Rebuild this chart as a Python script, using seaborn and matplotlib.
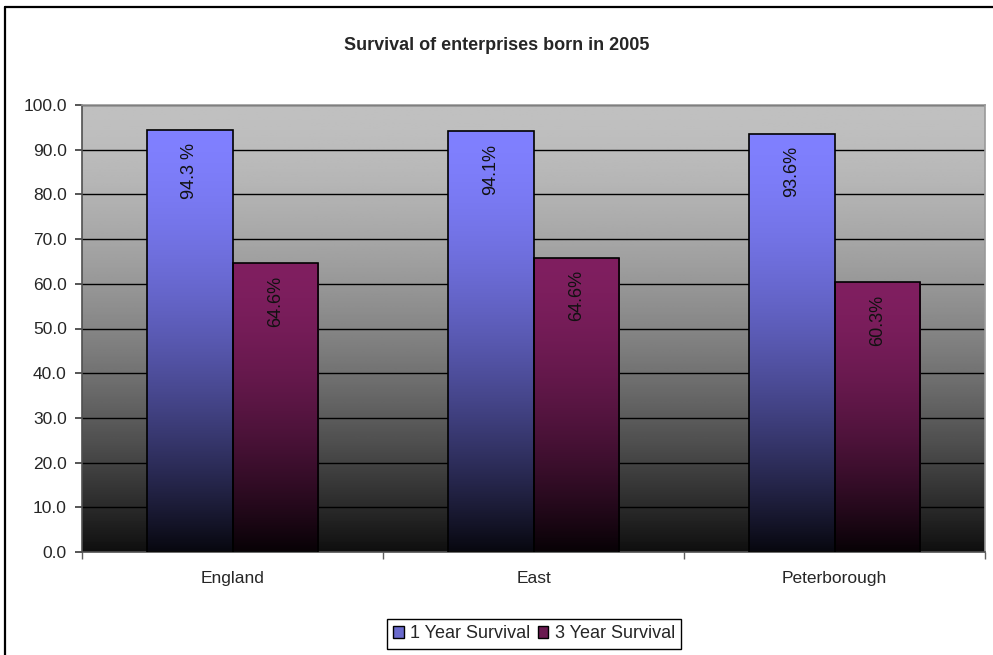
import numpy as np
import pandas as pd
import seaborn as sns
import matplotlib.pyplot as plt
from matplotlib.colors import to_rgb
from matplotlib.lines import Line2D
from matplotlib.patches import Rectangle

sns.set_theme(style="white")
plt.rcParams['font.family'] = ['Liberation Sans', 'DejaVu Sans']

# Chart data
categories = ["England", "East", "Peterborough"]
one_year = [94.3, 94.1, 93.6]
three_year = [64.6, 65.8, 60.3]
one_year_labels = ["94.3 %", "94.1%", "93.6%"]
three_year_labels = ["64.6%", "64.6%", "60.3%"]
series = ["1 Year Survival", "3 Year Survival"]

df = pd.DataFrame({
    "Area": categories * 2,
    "Series": [series[0]] * 3 + [series[1]] * 3,
    "Value": one_year + three_year,
})
labels = one_year_labels + three_year_labels

top_colors = {series[0]: "#8080FF", series[1]: "#801F60"}


def shade(f, lo=0.06):
    # excel-ish gradient: flat near top, dark at bottom
    return lo + (1 - lo) * (1 - (1 - f) ** 1.6)


fig = plt.figure(figsize=(9.93, 6.55), dpi=100)
ax = fig.add_axes([82 / 993, 1 - 552 / 655, (985 - 82) / 993, (552 - 105) / 655])

sns.barplot(data=df, x="Area", y="Value", hue="Series", order=categories,
            hue_order=series, width=0.57, ax=ax, legend=False, zorder=2)

ax.set_ylim(0, 100)
ax.set_xlim(-0.5, 2.5)

# background gradient
f = np.linspace(0, 1, 256)[:, None]
bg = np.clip(shade(f, 0.08) * 0.753, 0, 1)
ax.imshow(np.repeat(bg, 2, axis=1), cmap="gray", vmin=0, vmax=1, origin="lower",
          extent=[0, 1, 0, 1], transform=ax.transAxes, aspect="auto", zorder=0)

ax.set_axisbelow(True)
ax.yaxis.grid(True, color="black", lw=1.0)
ax.set_yticks(np.arange(0, 101, 10))
ax.set_yticklabels([f"{v:.1f}" for v in np.arange(0, 101, 10)])

# gradient bars
bars = [p for p in ax.patches if isinstance(p, Rectangle)][:6]
for i, bar in enumerate(bars):
    name = series[i // 3]
    x0, w, h = bar.get_x(), bar.get_width(), bar.get_height()
    col = np.array(to_rgb(top_colors[name]))
    g = shade(np.linspace(0, 1, 256))[:, None, None] * col[None, None, :]
    g = np.repeat(g, 2, axis=1)
    bar.set_facecolor("none")
    bar.set_edgecolor("black")
    bar.set_linewidth(1.2)
    bar.set_zorder(3)
    im = ax.imshow(g, origin="lower", extent=[x0, x0 + w, 0, h], aspect="auto", zorder=2.5)
    im.set_clip_path(bar)
    ax.annotate(labels[i], (x0 + w / 2, h), xytext=(0, -9), textcoords="offset points",
                rotation=90, ha="center", va="top", fontsize=13, color="#111111", zorder=4)
ax.set_xlim(-0.5, 2.5)
ax.set_ylim(0, 100)

ax.set_xlabel("")
ax.set_ylabel("")
ax.set_xticks([0, 1, 2])
ax.set_xticklabels(categories)
ax.set_xticks([-0.5, 0.5, 1.5, 2.5], minor=True)
ax.tick_params(axis="x", which="major", length=0, pad=14, labelsize=12.5)
ax.tick_params(axis="x", which="minor", length=5, direction="out", color="#606060", bottom=True)
ax.tick_params(axis="y", length=5, direction="out", color="#404040", left=True, pad=6, labelsize=12.5)

for s in ["left", "bottom"]:
    ax.spines[s].set_color("#505050")
for s in ["top", "right"]:
    ax.spines[s].set_color("#999999")
for s in ax.spines.values():
    s.set_linewidth(1.2)

fig.suptitle("Survival of enterprises born in 2005", x=497 / 993, y=1 - 46 / 655,
             va="center", fontsize=13, fontweight="bold")

handles = [Rectangle((0, 0), 1, 1, facecolor="#6A6ACC", edgecolor="black", lw=1),
           Rectangle((0, 0), 1, 1, facecolor="#6A1A50", edgecolor="black", lw=1)]
leg = fig.legend(handles, series, loc="center", bbox_to_anchor=(534 / 993, 1 - 634 / 655),
                 ncol=2, fontsize=13, frameon=True, fancybox=False, framealpha=1,
                 edgecolor="black", handlelength=0.6, handleheight=0.6, handletextpad=0.35,
                 columnspacing=0.4, borderpad=0.35)
leg.get_frame().set_linewidth(1.0)

# outer chart border (left and top visible)
fig.add_artist(Line2D([5 / 993, 5 / 993], [0, 1 - 7 / 655], color="black", lw=1.6))
fig.add_artist(Line2D([5 / 993, 1], [1 - 7 / 655, 1 - 7 / 655], color="black", lw=1.6))

fig.savefig("out.png", dpi=100)
